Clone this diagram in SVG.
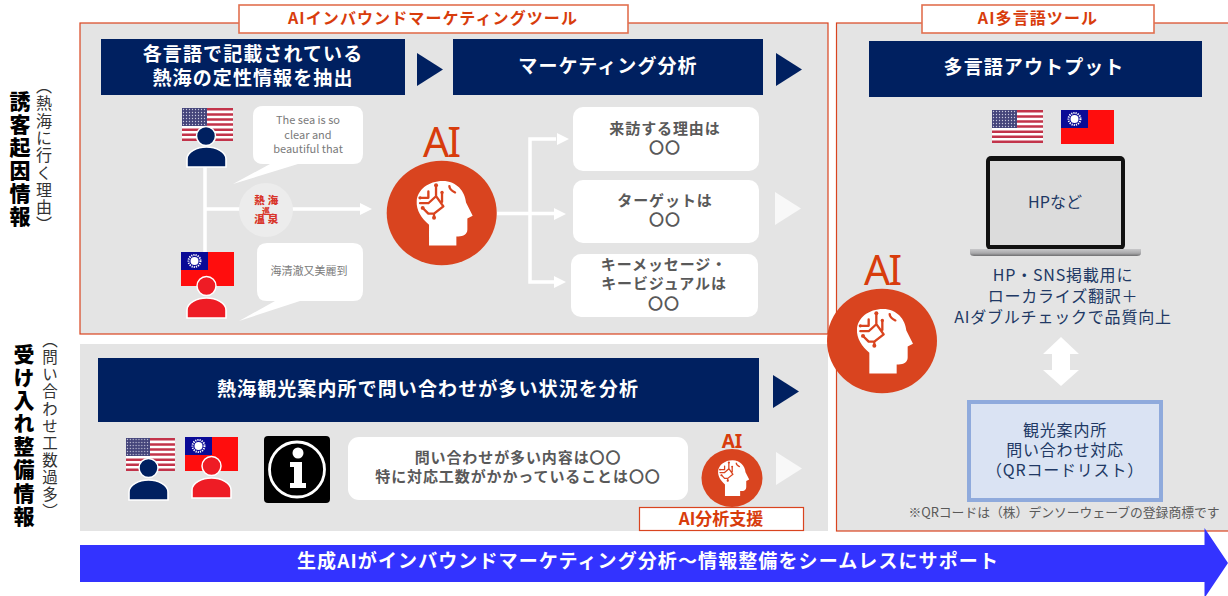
<svg xmlns="http://www.w3.org/2000/svg" width="1228" height="596" viewBox="0 0 1228 596">
<style>
text{font-family:"Noto Sans CJK JP","Noto Sans",sans-serif;text-anchor:middle}
.panel{fill:#e4e4e4;stroke:#d9441f;stroke-width:1.2}
.title{fill:#fff;stroke:#e2704f;stroke-width:1.6}
.tt{fill:#d83c0c;font-size:16px;font-weight:700;letter-spacing:1.1px}
.hdr{fill:#002060}
.ht{fill:#fff;font-size:19px;font-weight:700;letter-spacing:1.1px}
.card{fill:#fff}
.ct{fill:#595959;font-size:15px;font-weight:700;letter-spacing:.9px}
.bt{fill:#7a7a7a;font-size:11px}
.nt{fill:#203864;font-size:16px;letter-spacing:.8px}
.ai{fill:#d83c0c;font-family:"Noto Sans",sans-serif;letter-spacing:-2px}
.v{writing-mode:vertical-rl;text-anchor:start;fill:#000}
.vb{font-weight:900;font-size:21px;letter-spacing:2.1px}
.vn{fill:#333}
.wl{fill:none;stroke:#fff;stroke-width:3.5}
.ol{fill:#fff}
.lg{fill:#d8352a;font-weight:900;font-size:10.5px}
</style>
<defs>
<pattern id="stars" width="3" height="3" patternUnits="userSpaceOnUse"><rect width="3" height="3" fill="#44447a"/><circle cx="1.5" cy="1.5" r=".65" fill="#c9c9de"/></pattern>
<linearGradient id="base" x1="0" y1="0" x2="0" y2="1"><stop offset="0" stop-color="#c8c8ca"/><stop offset=".6" stop-color="#a8a8aa"/><stop offset="1" stop-color="#6e6e70"/></linearGradient>
<g id="us">
<rect width="51" height="33" fill="#fff"/>
<path d="M0 1.3H51M0 6.4H51M0 11.5H51M0 16.6H51M0 21.7H51M0 26.8H51M0 31.8H51" stroke="#c2334a" stroke-width="2.5"/>
<rect width="25" height="18" fill="url(#stars)"/>
</g>
<g id="tw">
<rect width="53" height="34" fill="#ff0d0d"/>
<rect width="27" height="18" fill="#0a0a96"/>
<circle cx="13.5" cy="9" r="4" fill="#fff"/>
<circle cx="13.5" cy="9" r="6" fill="none" stroke="#fff" stroke-width="2" stroke-dasharray="1.2 1"/>
</g>
<path id="bodyshape" d="M0 20V12C0 5 10 0 19.5 0S39 5 39 12V20Z" stroke="#fff" stroke-width="1.6"/>
<g id="head">
<circle r="55" fill="#d9441f"/>
<g transform="scale(.3333) translate(-95 -123)">
<path fill="#fff" d="M57 226V160C35 140 18 115 20 85C22 50 55 22 98 22C140 22 165 55 168 90L188 132L172 140V175C172 190 160 197 145 197H139V226Z"/>
<path fill="none" stroke="#d9441f" stroke-width="7" stroke-linecap="round" stroke-linejoin="round" d="M78 35V70L100 102L72 125V138M96 58V88M38 107L55 125H72M30 75H55V55M30 92H55L78 70M118 38Q118 50 135 58"/>
<g fill="#d9441f"><circle cx="78" cy="35" r="6"/><circle cx="38" cy="107" r="6"/><circle cx="72" cy="138" r="6"/><circle cx="96" cy="58" r="5"/><circle cx="30" cy="75" r="5"/></g>
</g>
</g>
<path id="tri" d="M0 0L26 16.5L0 33Z"/>
</defs>

<g id="labels">
<text class="v vb" x="20" y="90.500">誘客起因情報</text>
<text class="v vn" x="44" y="78" font-size="16" letter-spacing="1.3">（熱海に行く理由）</text>
<text class="v vb" x="24" y="343.500">受け入れ整備情報</text>
<text class="v vn" x="50" y="332.500" font-size="15.500" letter-spacing="1.6">（問い合わせ工数過多）</text>
</g>

<g id="panel-top">
<rect class="panel" x="80" y="23" width="748" height="311"/>
<rect class="title" x="239" y="5" width="389" height="28"/>
<text class="tt" x="433" y="24">AIインバウンドマーケティングツール</text>
</g>
<g id="panel-right">
<rect class="panel" x="836.500" y="23" width="395" height="508"/>
<rect class="title" x="922" y="5" width="232" height="28"/>
<text class="tt" x="1038" y="24">AI多言語ツール</text>
</g>
<g id="panel-bottom">
<rect x="80" y="344" width="748" height="187" fill="#e4e4e4"/>
</g>

<g id="hdr-extract">
<rect class="hdr" x="101" y="39" width="304" height="56"/>
<text class="ht"><tspan x="253" y="61">各言語で記載されている</tspan><tspan x="253" y="85">熱海の定性情報を抽出</tspan></text>
</g>
<g id="hdr-analysis">
<rect class="hdr" x="453" y="39" width="310" height="56"/>
<text class="ht" x="608" y="73">マーケティング分析</text>
</g>
<g id="hdr-output">
<rect class="hdr" x="869" y="41" width="333" height="56"/>
<text class="ht" x="1034" y="74">多言語アウトプット</text>
</g>
<g id="hdr-inquiry">
<rect class="hdr" x="98" y="358" width="661" height="64"/>
<text class="ht" x="428" y="396">熱海観光案内所で問い合わせが多い状況を分析</text>
</g>

<g id="connectors">
<use href="#tri" x="417" y="53" fill="#002060"/>
<use href="#tri" x="776" y="53" fill="#002060"/>
<use href="#tri" x="773" y="375" fill="#002060"/>
<use href="#tri" x="775" y="192" fill="#f8f8f8"/>
<use href="#tri" x="776" y="452" fill="#f8f8f8"/>
<path class="wl" d="M205 167V252M205 209H362"/>
<path class="ol" d="M360 203L372 209L360 215Z"/>
<path class="wl" d="M497 213.500H556M556 139H530V282H556"/>
<path class="ol" d="M557 133L569 139L557 145ZM554 208L566 214L554 220ZM554 276L566 282L554 288Z"/>
<path class="ol" d="M1061 337L1079 354H1070V370H1079L1061 386L1043 370H1052V354H1043Z"/>
</g>

<g id="user-us">
<use href="#us" x="182" y="108"/>
<circle cx="206" cy="136" r="9.500" fill="#002060" stroke="#fff" stroke-width="1.500"/>
<use href="#bodyshape" x="187" y="147" fill="#002060"/>
</g>
<g id="user-tw">
<use href="#tw" x="181" y="252"/>
<circle cx="206.500" cy="286" r="9.500" fill="#ee1c25" stroke="#fff" stroke-width="1.500"/>
<use href="#bodyshape" x="187" y="298" fill="#ee1c25"/>
</g>
<g id="logo">
<circle cx="266" cy="210" r="27" fill="#ececec"/>
<text class="lg"><tspan x="259.500" y="204">熱</tspan><tspan x="273" y="204">海</tspan></text>
<text class="lg" x="266" y="213.500" style="font-size:8px">巡</text>
<text class="lg"><tspan x="259.500" y="223">温</tspan><tspan x="273" y="223">泉</tspan></text>
</g>
<g id="bubble-en">
<path class="card" d="M263 106H353Q363 106 363 116V154Q363 164 353 164H298L233 184L270 164H263Q253 164 253 154V116Q253 106 263 106Z"/>
<text class="bt"><tspan x="308" y="124">The sea is so</tspan><tspan x="308" y="139">clear and</tspan><tspan x="308" y="153">beautiful that</tspan></text>
</g>
<g id="bubble-zh">
<path class="card" d="M267 243H353Q363 243 363 253V291Q363 301 353 301H300L239 321L275 301H267Q257 301 257 291V253Q257 243 267 243Z"/>
<text class="bt" x="309" y="275" style="font-family:'Noto Sans CJK TC',sans-serif">海清澈又美麗到</text>
</g>
<g id="ai-main">
<text class="ai" x="441" y="157" font-size="41">AI</text>
<use href="#head" transform="translate(441.700 213) scale(1 .95)"/>
</g>
<g id="result-reason">
<rect class="card" x="573" y="107" width="186" height="64" rx="10"/>
<text class="ct"><tspan x="665" y="134">来訪する理由は</tspan><tspan x="665" y="153">〇〇</tspan></text>
</g>
<g id="result-target">
<rect class="card" x="573" y="180" width="186" height="63" rx="10"/>
<text class="ct"><tspan x="665" y="206">ターゲットは</tspan><tspan x="665" y="225">〇〇</tspan></text>
</g>
<g id="result-message">
<rect class="card" x="571" y="254" width="187" height="63" rx="10"/>
<text class="ct"><tspan x="664" y="270">キーメッセージ・</tspan><tspan x="664" y="289">キービジュアルは</tspan><tspan x="664" y="309">〇〇</tspan></text>
</g>

<g id="flags-output">
<use href="#us" x="992" y="110"/>
<use href="#tw" x="1061" y="110"/>
</g>
<g id="laptop">
<rect x="986" y="156" width="139" height="94" rx="5" fill="#111"/>
<rect x="990" y="161" width="131" height="84" fill="#dcdcdc"/>
<path d="M970 249H1141V253Q1141 256 1137 256H974Q970 256 970 253Z" fill="url(#base)"/>
<text class="nt" x="1055" y="208" style="letter-spacing:0">HPなど</text>
</g>
<g id="output-note">
<text class="nt"><tspan x="1063" y="281">HP・SNS掲載用に</tspan><tspan x="1063" y="302">ローカライズ翻訳＋</tspan><tspan x="1063" y="323">AIダブルチェックで品質向上</tspan></text>
</g>
<g id="ai-center">
<text class="ai" x="882" y="285" font-size="41">AI</text>
<use href="#head" transform="translate(882 341) scale(1 .95)"/>
</g>
<g id="qr-box">
<rect x="969" y="402" width="192" height="98" fill="#dae3f3" stroke="#8faadc" stroke-width="4"/>
<text class="nt"><tspan x="1065" y="436">観光案内所</tspan><tspan x="1065" y="456">問い合わせ対応</tspan><tspan x="1065" y="476">（QRコードリスト）</tspan></text>
</g>
<text x="1064" y="517" font-size="12.800" fill="#595959" id="qr-note">※QRコードは（株）デンソーウェーブの登録商標です</text>

<g id="users-inquiry">
<use href="#us" transform="translate(126 438) scale(.96 1)"/>
<circle cx="148.500" cy="468" r="9.500" fill="#002060" stroke="#fff" stroke-width="1.500"/>
<use href="#bodyshape" x="129" y="480" fill="#002060"/>
<use href="#tw" x="185" y="437"/>
<circle cx="211.500" cy="466" r="9.500" fill="#ee1c25" stroke="#fff" stroke-width="1.500"/>
<use href="#bodyshape" x="192" y="478" fill="#ee1c25"/>
</g>
<g id="info-icon">
<rect x="264" y="436" width="66" height="67" rx="4" fill="#000"/>
<circle cx="297" cy="469.500" r="27.500" fill="none" stroke="#fff" stroke-width="2.800"/>
<circle cx="298" cy="453" r="5.500" fill="#fff"/>
<path fill="#fff" d="M290 462H302V483H306V488H290V483H294V467H290Z"/>
</g>
<g id="inquiry-card">
<rect class="card" x="348" y="437" width="340" height="63" rx="11"/>
<text class="ct"><tspan x="518" y="463">問い合わせが多い内容は〇〇</tspan><tspan x="518" y="482">特に対応工数がかかっていることは〇〇</tspan></text>
</g>
<g id="ai-small">
<text class="ai" x="732" y="448" font-size="19" font-weight="700" style="letter-spacing:0">AI</text>
<use href="#head" transform="translate(732 478) scale(.555 .527)"/>
</g>
<g id="ai-support">
<rect x="639.500" y="507.500" width="164" height="23" fill="#fff" stroke="#d9441f" stroke-width="1.200"/>
<text class="tt" x="721" y="525" style="letter-spacing:0;font-size:17px">AI分析支援</text>
</g>
<g id="seamless-arrow">
<path fill="#3333ff" d="M80 545H1204.500V528L1228 563L1204.500 598V582H80Z"/>
<text class="ht" x="648" y="568">生成AIがインバウンドマーケティング分析～情報整備をシームレスにサポート</text>
</g>
</svg>
